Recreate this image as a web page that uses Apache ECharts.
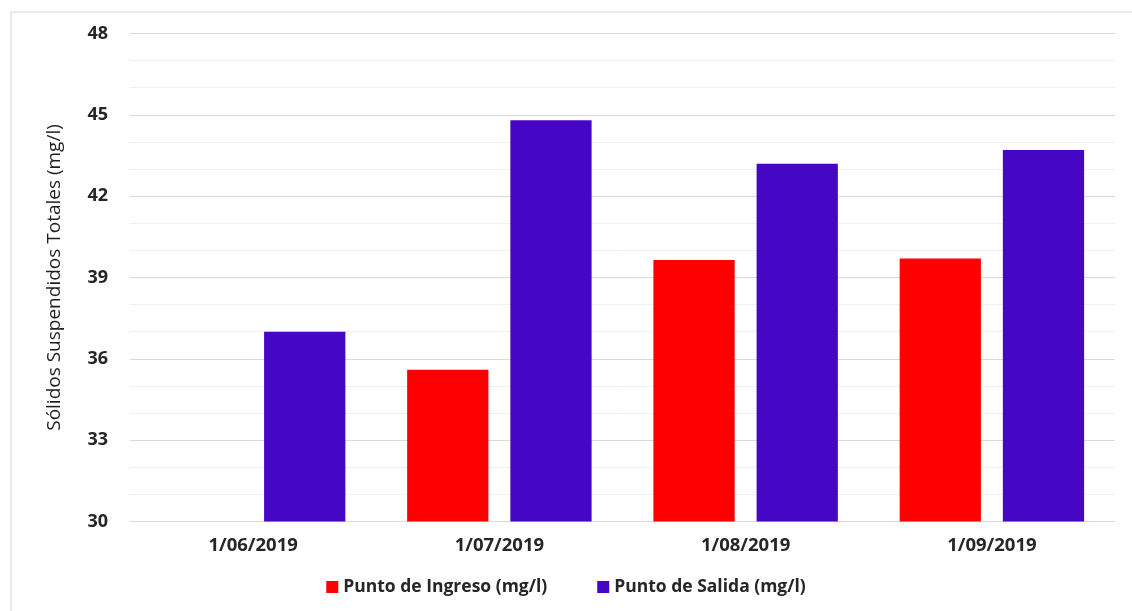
<!DOCTYPE html>
<html>
<head>
<meta charset="utf-8">
<script src="https://cdn.jsdelivr.net/npm/echarts@6/dist/echarts.min.js"></script>
<style>
  html, body { margin: 0; padding: 0; background: #fff; }
  #chart { width: 1132px; height: 611px; }
</style>
</head>
<body>
<div id="chart"></div>
<script>
  // datos del gráfico
  const fechas = ['1/06/2019', '1/07/2019', '1/08/2019', '1/09/2019'];
  const ingreso = [null, 35.6, 39.65, 39.7];
  const salida = [37.0, 44.8, 43.2, 43.7];

  const fuente = 'Open Sans, Noto Sans, sans-serif';

  const chart = echarts.init(document.getElementById('chart'));
  chart.setOption({
    animation: false,
    textStyle: { fontFamily: fuente },
    // marco del área del gráfico
    graphic: [{
      type: 'rect',
      shape: { x: 11, y: 12, width: 1125, height: 620 },
      style: { fill: 'none', stroke: '#d9d9d9', lineWidth: 1 },
      silent: true
    }],
    grid: { left: 130, right: 17, top: 33.5, bottom: 89.5 },
    legend: {
      bottom: 10,
      left: 'center',
      itemWidth: 12,
      itemHeight: 12,
      itemGap: 50,
      icon: 'rect',
      textStyle: { fontSize: 17.5, fontWeight: 'bold', color: '#262626', fontFamily: fuente },
      data: ['Punto de Ingreso (mg/l)', 'Punto de Salida (mg/l)']
    },
    xAxis: {
      type: 'category',
      data: fechas,
      axisLine: { lineStyle: { color: '#d9d9d9' } },
      axisTick: { show: false },
      axisLabel: { fontSize: 18.5, fontWeight: 'bold', color: '#262626', margin: 15, fontFamily: fuente }
    },
    yAxis: {
      type: 'value',
      min: 30,
      max: 48,
      interval: 3,
      name: 'Sólidos Suspendidos Totales (mg/l)',
      nameLocation: 'middle',
      nameGap: 66,
      nameTextStyle: { fontSize: 19, color: '#1f1f1f', fontFamily: fuente },
      axisLine: { show: false },
      axisTick: { show: false },
      axisLabel: { fontSize: 18, fontWeight: 'bold', color: '#262626', margin: 22, fontFamily: fuente },
      splitLine: { lineStyle: { color: '#d9d9d9', width: 1 } },
      minorTick: { show: false, splitNumber: 3 },
      minorSplitLine: { show: true, lineStyle: { color: '#efefef', width: 1 } }
    },
    series: [{
      name: 'Punto de Ingreso (mg/l)',
      type: 'bar',
      data: ingreso,
      barWidth: '33%',
      barGap: '27%',
      itemStyle: { color: '#ff0000' }
    }, {
      name: 'Punto de Salida (mg/l)',
      type: 'bar',
      data: salida,
      barWidth: '33%',
      itemStyle: { color: '#4507c3' }
    }]
  });
</script>
</body>
</html>
